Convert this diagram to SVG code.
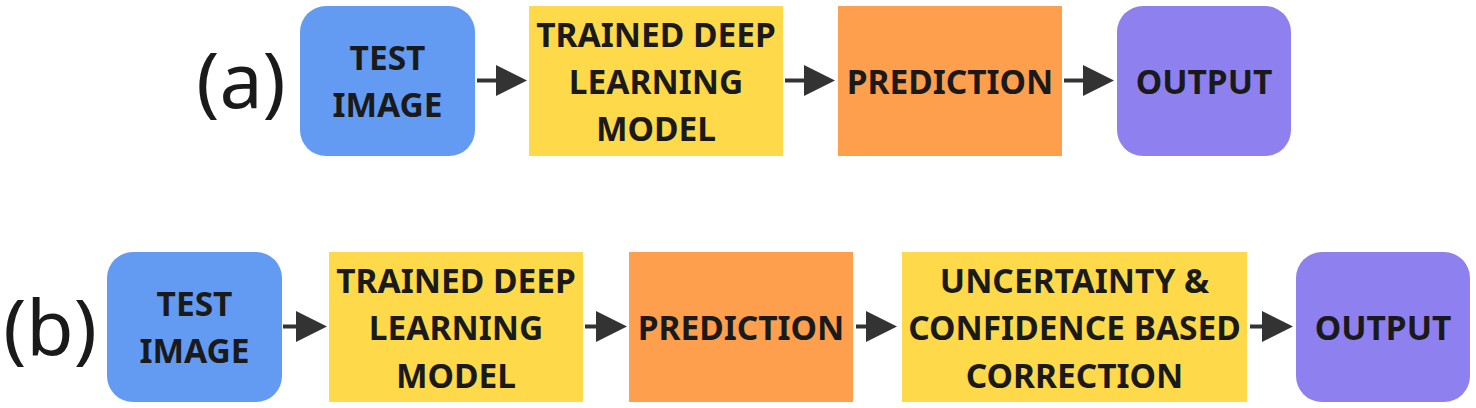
<svg xmlns="http://www.w3.org/2000/svg" width="1476" height="408" viewBox="0 0 1476 408">
<defs>
<marker id="ah" viewBox="0 0 31 31" refX="23" refY="15.5" markerWidth="31" markerHeight="31" markerUnits="userSpaceOnUse" orient="auto">
<path d="M0,0 L31,15.5 L0,31 Z" fill="#333333"/>
</marker>
<style>
.blue{fill:#629BF1}
.yellow{fill:#FEDA4A}
.orange{fill:#FD9F4D}
.purple{fill:#8E80EE}
.t{font-family:"Noto Sans","Open Sans","DejaVu Sans",sans-serif;font-weight:700;font-size:33.5px;fill:#1a1a1a;text-anchor:middle}
.lab{font-family:"Noto Sans","Open Sans","DejaVu Sans",sans-serif;font-weight:400;font-size:77px;fill:#1a1a1a;text-anchor:middle}
.c{stroke:#333333;stroke-width:4;fill:none;marker-end:url(#ah)}
</style>
</defs>
<rect width="1476" height="408" fill="#ffffff"/>
<text class="lab" x="241" y="108">(a)</text>
<text class="lab" x="50" y="355">(b)</text>
<g id="a-test">
<rect class="blue" x="300" y="6" width="175" height="150" rx="26"/>
<text class="t" x="387.5" y="70">TEST</text>
<text class="t" x="387.5" y="117">IMAGE</text>
</g>
<g id="a-model">
<rect class="yellow" x="529" y="6" width="254" height="150"/>
<text class="t" x="656" y="47">TRAINED DEEP</text>
<text class="t" x="656" y="94">LEARNING</text>
<text class="t" x="656" y="141">MODEL</text>
</g>
<g id="a-pred">
<rect class="orange" x="838" y="6" width="224" height="150"/>
<text class="t" x="950" y="93.5">PREDICTION</text>
</g>
<g id="a-out">
<rect class="purple" x="1117" y="6" width="174" height="150" rx="26"/>
<text class="t" x="1204" y="93.5">OUTPUT</text>
</g>
<g id="b-test">
<rect class="blue" x="107" y="252" width="175" height="150" rx="26"/>
<text class="t" x="194.5" y="316">TEST</text>
<text class="t" x="194.5" y="363">IMAGE</text>
</g>
<g id="b-model">
<rect class="yellow" x="329" y="252" width="254" height="150"/>
<text class="t" x="456" y="292.5">TRAINED DEEP</text>
<text class="t" x="456" y="340">LEARNING</text>
<text class="t" x="456" y="387.5">MODEL</text>
</g>
<g id="b-pred">
<rect class="orange" x="629" y="252" width="224" height="150"/>
<text class="t" x="741" y="339.5">PREDICTION</text>
</g>
<g id="b-corr">
<rect class="yellow" x="902" y="252" width="345" height="150"/>
<text class="t" x="1074.5" y="292.5">UNCERTAINTY &amp;</text>
<text class="t" x="1074.5" y="340">CONFIDENCE BASED</text>
<text class="t" x="1074.5" y="387.5">CORRECTION</text>
</g>
<g id="b-out">
<rect class="purple" x="1296" y="252" width="174" height="150" rx="26"/>
<text class="t" x="1383" y="339.5">OUTPUT</text>
</g>
<g id="connectors">
<path class="c" d="M477,80.5 L519,80.5"/>
<path class="c" d="M785,80.5 L827,80.5"/>
<path class="c" d="M1064,80.5 L1106,80.5"/>
<path class="c" d="M283,326.5 L319,326.5"/>
<path class="c" d="M585,326.5 L619,326.5"/>
<path class="c" d="M856,326.5 L889,326.5"/>
<path class="c" d="M1250,326.5 L1285,326.5"/>
</g>
</svg>
